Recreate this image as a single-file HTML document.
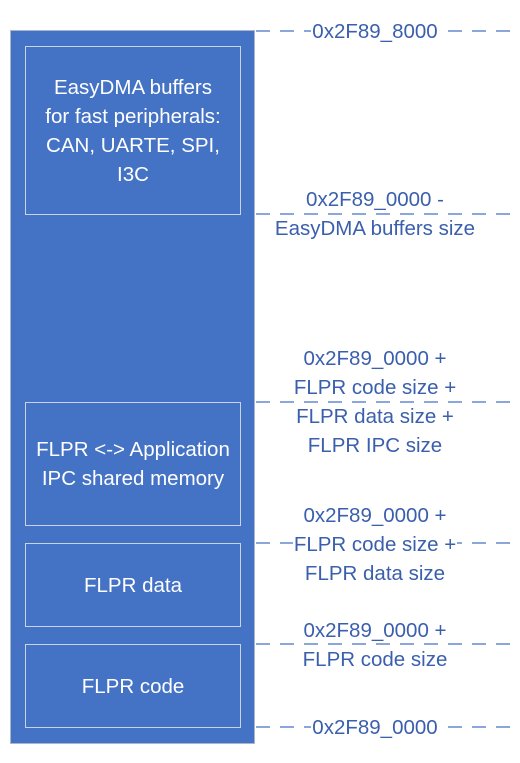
<!DOCTYPE html>
<html><head><style>
body{margin:0;width:520px;height:763px;background:#fff;position:relative;font-family:"Liberation Sans",sans-serif;overflow:hidden}
.main{position:absolute;background:#4472C4;border:1px solid #a9b6cc;box-sizing:border-box;width:245px;height:714px;left:10px;top:30px}
.box{position:absolute;left:25px;width:216px;border:1px solid #c9d3e6;box-sizing:border-box;color:#fff;font-size:20.5px;line-height:29px;display:flex;align-items:center;justify-content:center;text-align:center;white-space:nowrap}
.lbl{position:absolute;left:225px;width:300px;text-align:center;color:#3a5fad;font-size:20.5px;line-height:29px;white-space:nowrap}
.lbl span{background:#fff;padding:0 1px}
svg{position:absolute;left:0;top:0}
</style></head><body>
<div class="main"></div>
<svg width="520" height="763">
<g stroke="#4472C4" stroke-width="1.3" stroke-dasharray="14,10">
<line x1="256" y1="31" x2="510" y2="31"/>
<line x1="256" y1="214" x2="510" y2="214"/>
<line x1="256" y1="402" x2="510" y2="402"/>
<line x1="256" y1="543" x2="510" y2="543"/>
<line x1="256" y1="644" x2="510" y2="644"/>
<line x1="256" y1="727" x2="510" y2="727"/>
</g></svg>
<div class="box" style="top:46px;height:169px">EasyDMA buffers<br>for fast peripherals:<br>CAN, UARTE, SPI,<br>I3C</div>
<div class="box" style="top:402px;height:124px">FLPR &lt;-&gt; Application<br>IPC shared memory</div>
<div class="box" style="top:543px;height:84px">FLPR data</div>
<div class="box" style="top:644px;height:84px">FLPR code</div>
<div class="lbl" style="top:17px"><span>0x2F89_8000</span></div>
<div class="lbl" style="top:185px"><span>0x2F89_0000 -</span><br><span>EasyDMA buffers size</span></div>
<div class="lbl" style="top:344px">0x2F89_0000 +<br><span>FLPR code size +</span><br>FLPR data size +<br>FLPR IPC size</div>
<div class="lbl" style="top:501px">0x2F89_0000 +<br><span>FLPR code size +</span><br>FLPR data size</div>
<div class="lbl" style="top:616px"><span>0x2F89_0000 +</span><br>FLPR code size</div>
<div class="lbl" style="top:713px"><span>0x2F89_0000</span></div>
</body></html>
